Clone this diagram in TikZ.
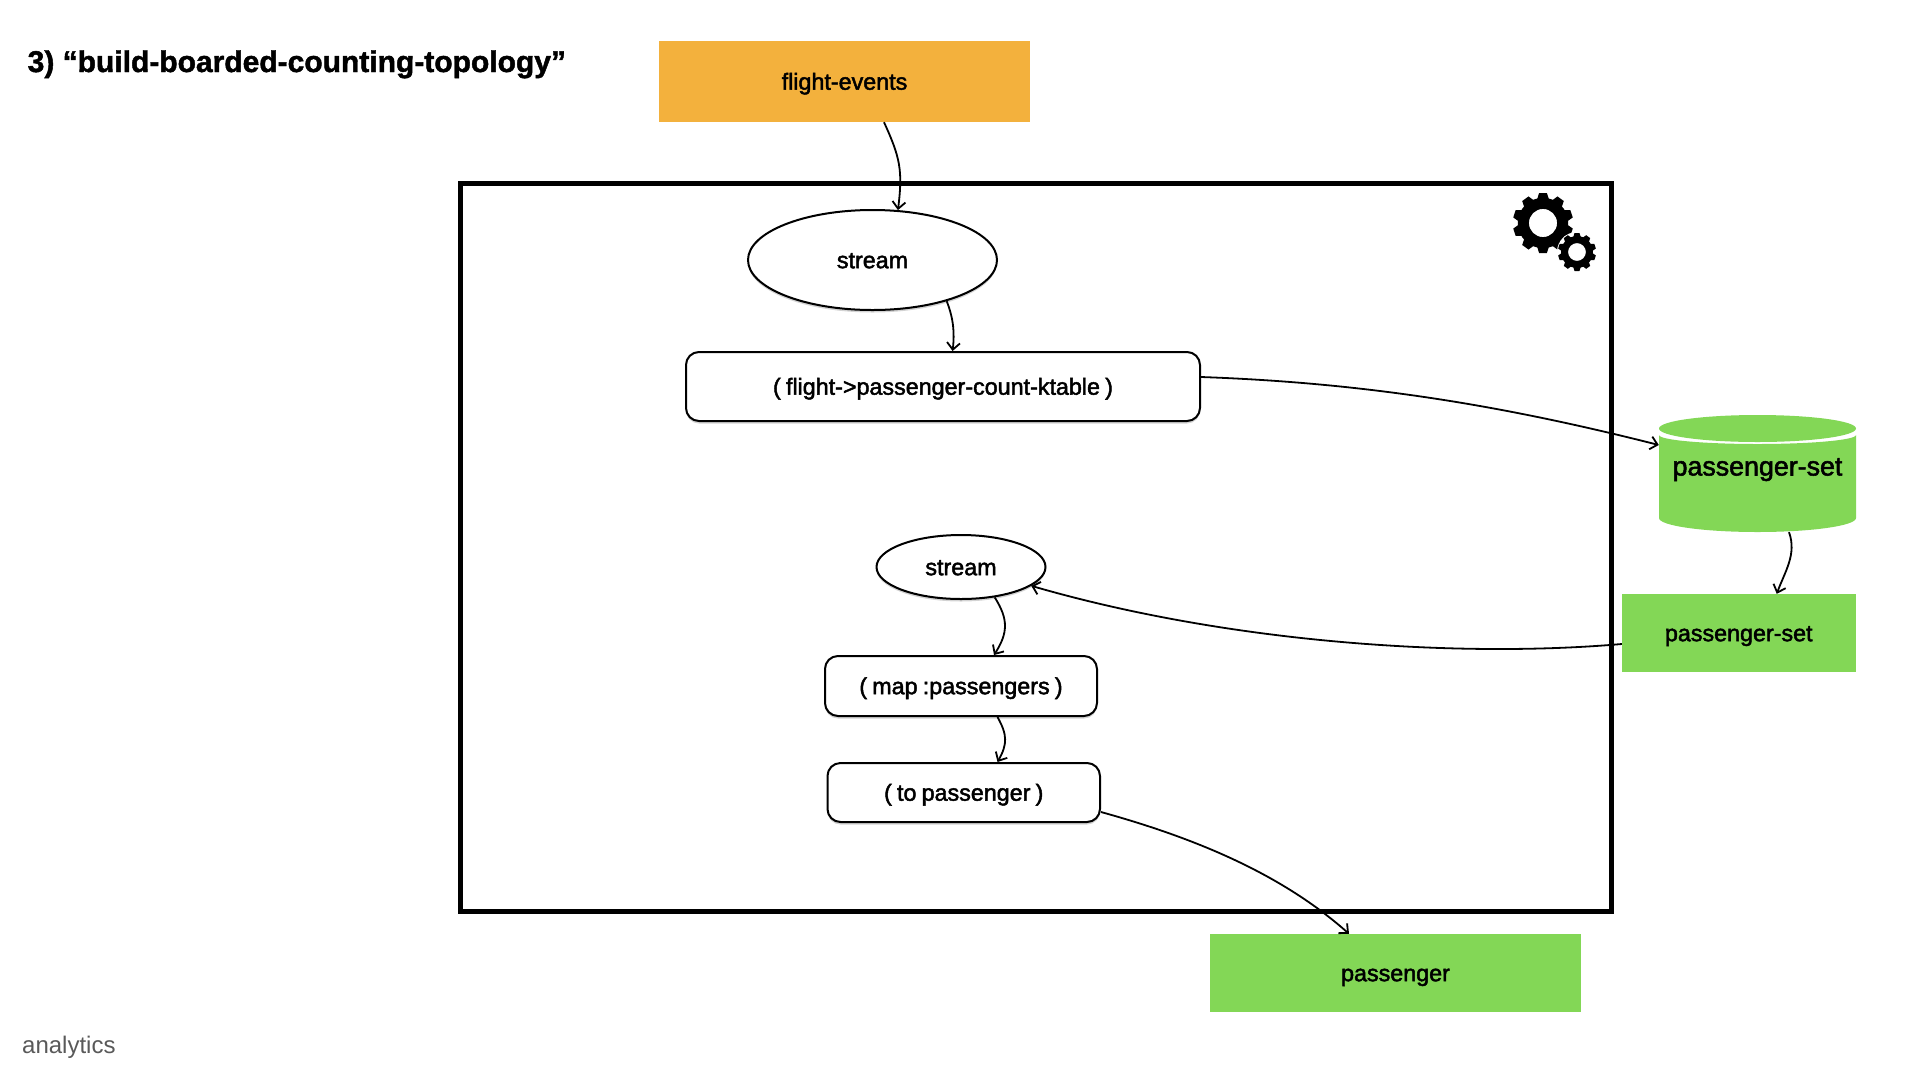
\documentclass[tikz,border=0pt]{standalone}
\usepackage{fontspec}
\setmainfont{Liberation Sans}
\newfontfamily\labelfont[FakeBold=2,WordSpace=0.8]{Liberation Sans}
\newfontfamily\titlefont[BoldFeatures={FakeBold=1.5}]{Liberation Sans}
\usetikzlibrary{arrows.meta,shapes.geometric,shadows}
\definecolor{eventorange}{HTML}{F3B13D}
\definecolor{storegreen}{HTML}{83D756}
\tikzset{
    flow/.style={line width=1.8pt,-{Straight Barb[length=7pt,width=13pt]}},
    labeltext/.style={text height=21.4pt,text depth=5pt,font=\labelfont\fontsize{23.3}{26}\selectfont},
    topicbox/.style={rectangle,inner sep=0pt,labeltext},
    opshadow/.style={drop shadow={shadow xshift=0pt,shadow yshift=-2.5pt,opacity=.35}},
    streamnode/.style={ellipse,draw,line width=2pt,fill=white,inner sep=0pt,opshadow,labeltext},
    opbox/.style={rectangle,rounded corners=13pt,draw,line width=2pt,fill=white,inner sep=0pt,opshadow,labeltext},
    gearicon/.pic={
        \fill[even odd rule] (0,0) circle[radius=.84] (0,0) circle[radius=.47];
        \foreach \a in {18,54,...,342}
            \fill[rotate=\a] (.78,-.2) -- (1,-.13) -- (1,.13) -- (.78,.2) -- cycle;
    }
}
\begin{document}
\begin{tikzpicture}[x=1pt,y=-1pt]
    \useasboundingbox (0,0) rectangle (1920,1080);
    \node[anchor=base west,inner sep=0pt,font=\titlefont\bfseries\fontsize{30}{36}\selectfont] (title) at (27.5,72) {3) “build-boarded-counting-topology”};
    \node[anchor=base west,inner sep=0pt,text=black!65,font=\fontsize{24}{28}\selectfont] (deck) at (22,1053) {analytics};

    \node[rectangle,draw,line width=5pt,minimum width=1151pt,minimum height=728.5pt] (topology) at (1036,547.5) {};
    \pic[scale=30] at (1543,223) {gearicon};
    \fill[white] (1577,252) circle[radius=20];
    \pic[scale=19] at (1577,252) {gearicon};

    \node[topicbox,fill=eventorange,minimum width=371pt,minimum height=81pt] (events) at (844.5,81.5) {flight-events};
    \node[streamnode,minimum width=249pt,minimum height=100pt] (streamA) at (872.5,260) {stream};
    \node[opbox,minimum width=514pt,minimum height=69pt] (ktable) at (943,386.5) {( flight->passenger-count-ktable )};
    \node[streamnode,minimum width=169pt,minimum height=64pt] (streamB) at (961,567) {stream};
    \node[opbox,minimum width=272pt,minimum height=60pt] (mapop) at (961,686) {( map :passengers )};
    \node[opbox,minimum width=272.5pt,minimum height=59pt] (toop) at (963.75,792.5) {( to passenger )};

    \fill[storegreen] (1659,435) -- (1659,518) arc[start angle=180,end angle=0,x radius=98.5,y radius=14] -- (1856,435) arc[start angle=0,end angle=180,x radius=98.5,y radius=9] -- cycle;
    \fill[storegreen] (1757.5,428.5) ellipse[x radius=98.5,y radius=13.5];
    \node[rectangle,inner sep=0pt,minimum width=197pt,minimum height=117pt,text height=22pt,text depth=18pt,font=\labelfont\fontsize{26.8}{30}\selectfont] (store) at (1757.5,473.5) {passenger-set};

    \node[topicbox,fill=storegreen,minimum width=233.5pt,minimum height=78pt] (settopic) at (1738.75,633) {passenger-set};
    \node[topicbox,fill=storegreen,minimum width=371pt,minimum height=78pt] (passenger) at (1395.5,973) {passenger};

    \draw[flow] ([xshift=39.5pt]events.south) .. controls +(16,35) and +(5,-40) .. (streamA.63);
    \draw[flow] (streamA.-29.5) .. controls +(7,18) and +(2,-18) .. ([xshift=9.6pt]ktable.north);
    \draw[flow] ([yshift=9.5pt]ktable.east) .. controls +(170,6) and +(-150,-38) .. ([yshift=28.5pt]store.west);
    \draw[flow] ([xshift=31.5pt]store.south) .. controls +(8,22) and +(8,-22) .. ([xshift=38pt]settopic.north);
    \draw[flow] ([yshift=-11pt]settopic.west) .. controls +(-160,14) and +(200,58) .. (streamB.-15);
    \draw[flow] (streamB.-42) .. controls +(14,22) and +(14,-22) .. ([xshift=33pt]mapop.north);
    \draw[flow] ([xshift=36.5pt]mapop.south) .. controls +(10,18) and +(10,-18) .. ([xshift=33.75pt]toop.north);
    \draw[flow] ([yshift=-19.5pt]toop.east) .. controls +(90,25) and +(-70,-62) .. ([xshift=-46.5pt]passenger.north);
\end{tikzpicture}
\end{document}
